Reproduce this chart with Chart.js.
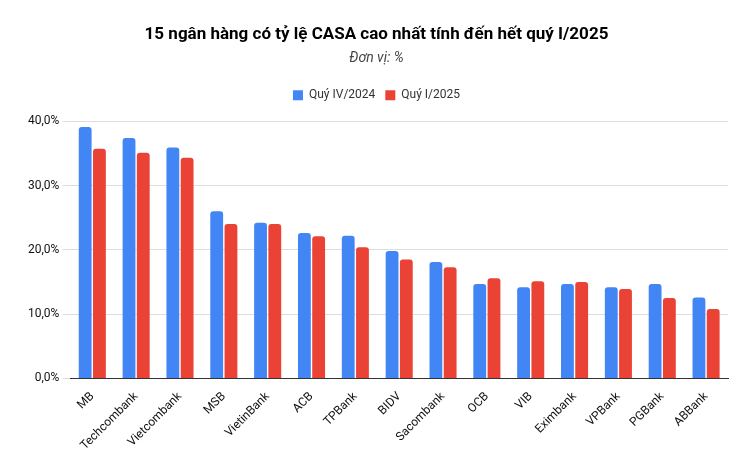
<!DOCTYPE html>
<html><head><meta charset="utf-8">
<script src="https://cdn.jsdelivr.net/npm/chart.js@4"></script>
<style>html,body{margin:0;background:#fff}#w{width:753px;height:467px}</style>
</head><body><div id="w"><canvas id="c"></canvas></div>
<script>
const categories=["MB","Techcombank","Vietcombank","MSB","VietinBank","ACB","TPBank","BIDV","Sacombank","OCB","VIB","Eximbank","VPBank","PGBank","ABBank"];
const q4_2024=[39.1,37.4,35.9,26.0,24.2,22.6,22.2,19.8,18.1,14.7,14.2,14.7,14.2,14.7,12.6];
const q1_2025=[35.7,35.1,34.3,24.0,24.0,22.1,20.4,18.5,17.3,15.6,15.1,15.0,13.9,12.5,10.8];
const yTicks=[0,10,20,30,40];
Chart.defaults.font.family="Roboto";
new Chart(document.getElementById('c'),{type:'bar',
data:{labels:categories,datasets:[
{label:'Quý IV/2024',data:q4_2024,backgroundColor:'#4285F4',borderRadius:3,categoryPercentage:0.65,barPercentage:0.9},
{label:'Quý I/2025',data:q1_2025,backgroundColor:'#EA4335',borderRadius:3,categoryPercentage:0.65,barPercentage:0.9}]},
options:{responsive:true,maintainAspectRatio:false,animation:false,
layout:{padding:{left:25,right:25,top:15,bottom:11}},
plugins:{title:{display:true,text:'15 ngân hàng có tỷ lệ CASA cao nhất tính đến hết quý I/2025',font:{size:17,weight:'bold'},color:'#000',padding:{top:10,bottom:5}},
subtitle:{display:true,text:'Đơn vị: %',font:{size:14,style:'italic'},color:'#444',padding:{bottom:12}},
legend:{labels:{boxWidth:10,boxHeight:10,font:{size:12},color:'#333',padding:10},
 afterFit:null},tooltip:{enabled:false}},
scales:{x:{grid:{display:false},border:{color:'#333'},ticks:{maxRotation:45,minRotation:45,color:'#111',font:{size:12}}},
y:{min:0,max:40,afterBuildTicks:a=>{a.ticks=yTicks.map(v=>({value:v}));},grid:{color:'#ddd'},border:{display:false},ticks:{color:'#111',font:{size:12},callback:v=>v.toFixed(1).replace('.',',')+'%'}}}},
plugins:[{id:'lg',beforeInit(c){const f=c.legend.fit;c.legend.fit=function(){f.call(this);this.height+=10;};}}]});
</script></body></html>
